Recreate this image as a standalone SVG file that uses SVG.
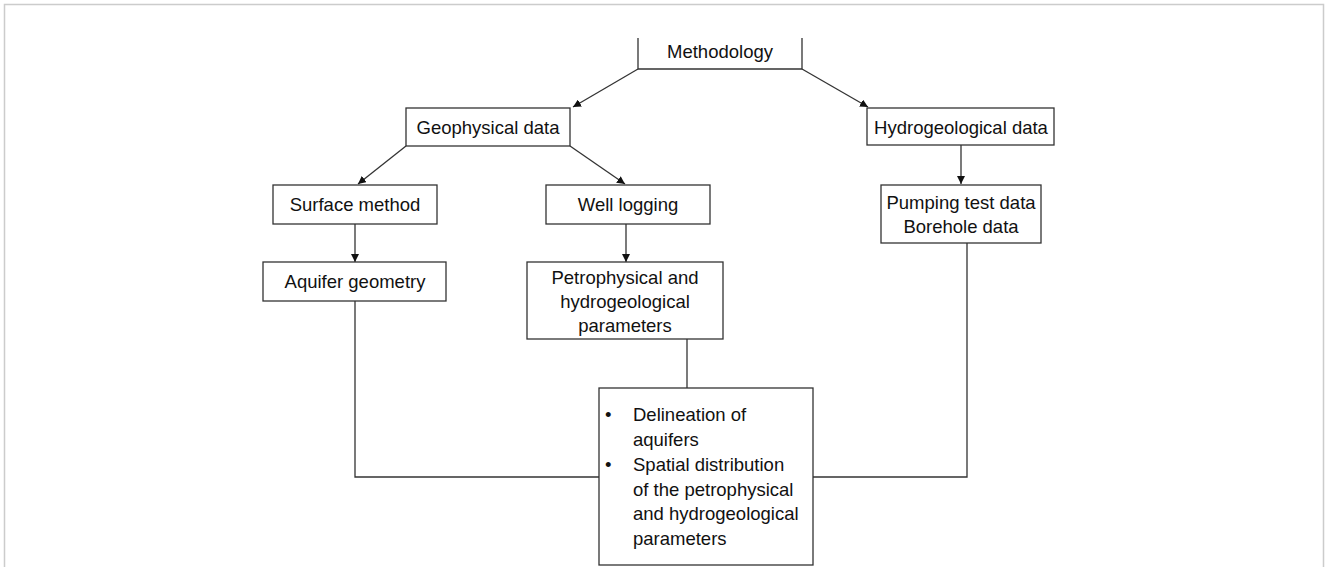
<svg xmlns="http://www.w3.org/2000/svg" width="1328" height="567" viewBox="0 0 1328 567">
<style>
.box{fill:#fff;stroke:#333;stroke-width:1.3}
.ln{fill:none;stroke:#333;stroke-width:1.3}
.t{font-family:"Liberation Sans",Arial,sans-serif;font-size:18.5px;fill:#111;text-anchor:middle}
.tl{font-family:"Liberation Sans",Arial,sans-serif;font-size:18.5px;fill:#111}
</style>
<defs>
<marker id="ah" viewBox="0 0 10 10" refX="10" refY="5" markerWidth="8" markerHeight="8" markerUnits="userSpaceOnUse" orient="auto">
<path d="M0,0 L10,5 L0,10 z" fill="#111"/>
</marker>
</defs>
<rect x="0" y="0" width="1328" height="567" fill="#fff"/>
<path d="M4.5,567 V4.5 H1323.5 V567" fill="none" stroke="#ccc" stroke-width="1.5"/>
<g id="connectors">
<line class="ln" x1="638" y1="69" x2="573" y2="107" marker-end="url(#ah)"/>
<line class="ln" x1="802" y1="69" x2="868" y2="107" marker-end="url(#ah)"/>
<line class="ln" x1="406" y1="146" x2="358" y2="184" marker-end="url(#ah)"/>
<line class="ln" x1="570" y1="146" x2="625" y2="184" marker-end="url(#ah)"/>
<line class="ln" x1="961" y1="145" x2="961" y2="184" marker-end="url(#ah)"/>
<line class="ln" x1="355" y1="224" x2="355" y2="262" marker-end="url(#ah)"/>
<line class="ln" x1="626" y1="224" x2="626" y2="262" marker-end="url(#ah)"/>
<polyline class="ln" points="355,301 355,477 599,477"/>
<polyline class="ln" points="967,243 967,477 813,477"/>
<line class="ln" x1="687" y1="339" x2="687" y2="388"/>
</g>
<g id="methodology">
<path class="ln" d="M638,38 V69 H802 V38"/>
<text class="t" x="720" y="58">Methodology</text>
</g>
<g id="geophysical">
<rect class="box" x="406" y="108" width="164" height="38"/>
<text class="t" x="488" y="134">Geophysical data</text>
</g>
<g id="hydrogeological">
<rect class="box" x="867" y="108" width="187" height="37"/>
<text class="t" x="961" y="134">Hydrogeological data</text>
</g>
<g id="surface">
<rect class="box" x="273" y="185" width="164" height="39"/>
<text class="t" x="355" y="211">Surface method</text>
</g>
<g id="welllogging">
<rect class="box" x="546" y="185" width="164" height="39"/>
<text class="t" x="628" y="211">Well logging</text>
</g>
<g id="pumping">
<rect class="box" x="881" y="185" width="160" height="58"/>
<text class="t" x="961" y="209">Pumping test data</text>
<text class="t" x="961" y="233">Borehole data</text>
</g>
<g id="aquifer">
<rect class="box" x="263" y="262" width="183" height="39"/>
<text class="t" x="355" y="288">Aquifer geometry</text>
</g>
<g id="petro">
<rect class="box" x="527" y="262" width="196" height="77"/>
<text class="t" x="625" y="284">Petrophysical and</text>
<text class="t" x="625" y="308">hydrogeological</text>
<text class="t" x="625" y="332">parameters</text>
</g>
<g id="result">
<rect class="box" x="599" y="388" width="214" height="177"/>
<text class="tl" x="605" y="421">•</text>
<text class="tl" x="633" y="421">Delineation of</text>
<text class="tl" x="633" y="446">aquifers</text>
<text class="tl" x="605" y="471">•</text>
<text class="tl" x="633" y="471">Spatial distribution</text>
<text class="tl" x="633" y="496">of the petrophysical</text>
<text class="tl" x="633" y="520">and hydrogeological</text>
<text class="tl" x="633" y="545">parameters</text>
</g>
</svg>
